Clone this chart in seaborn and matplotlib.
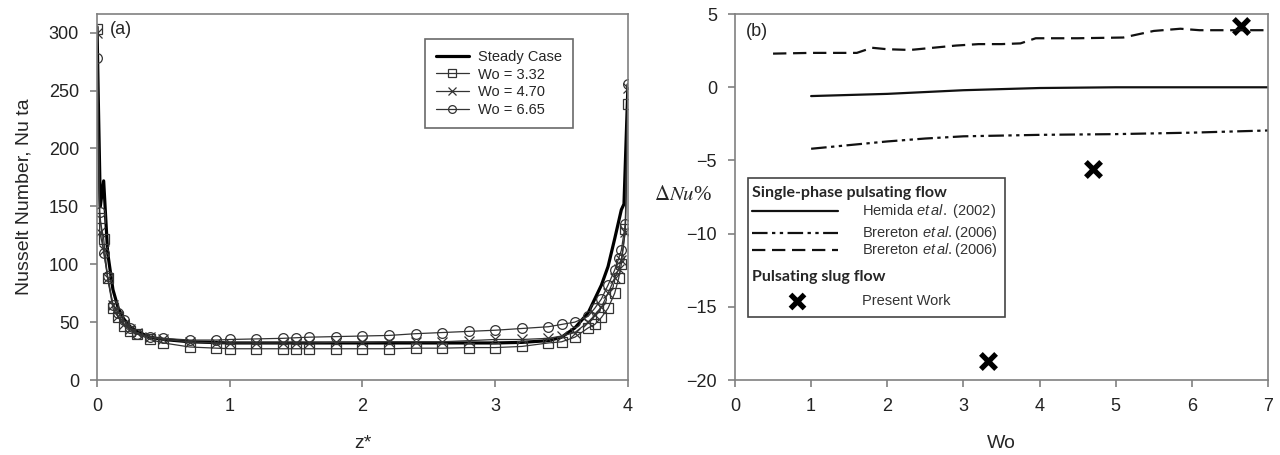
import numpy as np
import pandas as pd
import matplotlib
matplotlib.use('Agg')
import matplotlib.pyplot as plt
from matplotlib.patches import Rectangle
from matplotlib.lines import Line2D
import seaborn as sns

# ---- panel (a) data : Nusselt number along z*
z_wo = [0, 0.02, 0.05, 0.08, 0.12, 0.16, 0.2, 0.25, 0.3, 0.4, 0.5, 0.7, 0.9, 1.0, 1.2, 1.4, 1.5, 1.6, 1.8,
        2.0, 2.2, 2.4, 2.6, 2.8, 3.0, 3.2, 3.4, 3.5, 3.6, 3.7, 3.75, 3.8, 3.85, 3.9, 3.93, 3.95, 3.98, 4.0]
nu_332 = [303, 140, 122, 88, 62, 54, 47, 42, 40, 35, 32, 28.5, 27.5, 27, 27, 27, 27, 27, 27,
          27, 27, 27.5, 27.5, 28, 28, 29, 32, 33, 37, 45, 48, 54, 62, 75, 88, 100, 130, 238]
nu_470 = [300, 128, 112, 88, 65, 55, 48, 44, 41, 37, 35, 33, 32, 32, 32, 32, 32, 32, 32.5,
          32.5, 33, 33, 33, 34, 35, 35, 36, 38, 41, 50, 56, 63, 75, 88, 96, 104, 128, 252]
nu_665 = [278, 145, 110, 90, 65, 58, 52, 45, 40, 37, 36, 34.5, 34.5, 35, 35.5, 36, 36.5, 37, 37.5,
          38, 38.5, 40, 41, 42, 43, 44.5, 46, 48, 50, 55, 62, 70, 82, 95, 105, 112, 135, 256]
z_st = [0, 0.01, 0.025, 0.05, 0.08, 0.12, 0.16, 0.2, 0.25, 0.3, 0.4, 0.5, 0.7, 1.0, 1.5,
        2.0, 2.5, 3.0, 3.2, 3.4, 3.5, 3.6, 3.7, 3.8, 3.85, 3.9, 3.95, 3.97, 4.0]
nu_st = [305, 240, 150, 172, 110, 78, 62, 53, 46, 42, 37, 35, 33, 32, 32,
         32, 32, 32, 32.5, 34, 37, 45, 58, 82, 98, 122, 147, 152, 255]

# ---- panel (b) data : Delta Nu % vs Wo
wo_hem = [1, 2, 3, 4, 5, 6, 7]
dnu_hem = [-0.6, -0.45, -0.2, -0.05, 0, 0, 0]
wo_bre1 = [1, 1.5, 2, 2.5, 3, 3.5, 4, 5, 6, 7]
dnu_bre1 = [-4.2, -3.95, -3.7, -3.5, -3.35, -3.3, -3.25, -3.2, -3.1, -2.95]
wo_bre2 = [0.5, 1.0, 1.6, 1.8, 2.0, 2.3, 2.6, 2.9, 3.2, 3.5, 3.75, 3.95, 4.5, 5.1, 5.5, 5.85, 6.1, 7.0]
dnu_bre2 = [2.3, 2.35, 2.35, 2.7, 2.6, 2.55, 2.7, 2.85, 2.95, 2.95, 3.0, 3.35, 3.35, 3.4, 3.85, 4.0, 3.9, 3.9]
wo_pw = [3.32, 4.70, 6.65]
dnu_pw = [-18.7, -5.6, 4.2]

sns.set_style('ticks')
plt.rcParams['font.family'] = ['Liberation Sans', 'DejaVu Sans']
plt.rcParams['mathtext.fontset'] = 'custom'
plt.rcParams['mathtext.it'] = 'Liberation Sans:italic'
plt.rcParams['mathtext.rm'] = 'Liberation Sans'

GREY = '#808080'
fig = plt.figure(figsize=(12.8, 4.55), dpi=100)
ax1 = fig.add_axes([0.0758, 0.1648, 0.4148, 0.8042])
ax2 = fig.add_axes([0.5742, 0.1648, 0.4164, 0.8042])

for ax in (ax1, ax2):
    for s in ax.spines.values():
        s.set_color(GREY)
        s.set_linewidth(1.2)
    ax.tick_params(direction='out', length=5, width=1.2, color=GREY, labelsize=13,
                   labelcolor='#222222', pad=8)

# ---- (a)
sns.lineplot(x=z_st, y=nu_st, ax=ax1, color='black', lw=2.3, label='Steady Case')
mk = dict(markerfacecolor='none', markeredgecolor='#333333', markeredgewidth=0.9, markersize=7)
sns.lineplot(x=z_wo, y=nu_332, ax=ax1, color='#333333', lw=0.9, marker='s', label='Wo = 3.32', **mk)
sns.lineplot(x=z_wo, y=nu_470, ax=ax1, color='#333333', lw=0.9, marker='x', label='Wo = 4.70', **mk)
sns.lineplot(x=z_wo, y=nu_665, ax=ax1, color='#333333', lw=0.9, marker='o', label='Wo = 6.65', **mk)
ax1.set_xlim(0, 4)
ax1.set_ylim(0, 316)
ax1.set_xticks([0, 1, 2, 3, 4])
ax1.set_yticks(range(0, 301, 50))
ax1.set_xlabel('z*', fontsize=14, labelpad=14)
ax1.set_ylabel('Nusselt Number, Nu ta', fontsize=14, labelpad=12)
ax1.text(0.1, 303, '(a)', fontsize=13, va='center')
leg = ax1.legend(loc='upper right', bbox_to_anchor=(0.896, 0.932), fontsize=10.5, frameon=True,
                 fancybox=False, edgecolor='#444444', handlelength=2.3, handletextpad=0.6,
                 borderpad=0.75, labelspacing=0.25, borderaxespad=0, markerscale=0.8)
leg.get_frame().set_linewidth(1.2)

# ---- (b)
sns.lineplot(x=wo_hem, y=dnu_hem, ax=ax2, color='#111111', lw=1.6)
sns.lineplot(x=wo_bre1, y=dnu_bre1, ax=ax2, color='#111111', lw=1.6)
sns.lineplot(x=wo_bre2, y=dnu_bre2, ax=ax2, color='#111111', lw=1.6)
ddot = (0, (7, 2, 1.5, 2, 1.5, 2))
dash = (0, (6, 3))
ax2.lines[1].set_linestyle(ddot)
ax2.lines[2].set_linestyle(dash)
sns.scatterplot(x=wo_pw, y=dnu_pw, ax=ax2, marker='x', s=120, color='black', linewidth=3.8)
ax2.set_xlim(0, 7)
ax2.set_ylim(-20, 5)
ax2.set_xticks(range(0, 8))
ax2.set_yticks(range(-20, 6, 5))
ax2.set_xlabel('Wo', fontsize=14, labelpad=14)
ax2.set_ylabel(r'$\Delta Nu$%', fontsize=15, rotation=0, family='Liberation Serif',
               math_fontfamily='stix', ha='center', va='center')
ax2.yaxis.set_label_coords(-0.098, 0.505)
ax2.text(0.14, 3.8, '(b)', fontsize=13, va='center')

# hand-built legend box for panel (b)
T = ax2.transAxes
ax2.add_patch(Rectangle((0.024, 0.172), 0.483, 0.38, transform=T, fill=False,
                        edgecolor='#444444', lw=1.2, zorder=5))
hdr = dict(transform=T, fontsize=11.5, fontweight='bold', family='Lato', va='center', zorder=6)
ent = dict(transform=T, fontsize=10.5, va='center', color='#333333', zorder=6)
ax2.text(0.032, 0.511, 'Single-phase pulsating flow', **hdr)
rows = [(0.462, '-', 'Hemida $\\mathit{et\\,al.}$ (2002)'),
        (0.402, ddot, 'Brereton $\\mathit{et\\,al.}$(2006)'),
        (0.355, dash, 'Brereton $\\mathit{et\\,al.}$(2006)')]
for yy, ls, lab in rows:
    ax2.add_line(Line2D([0.032, 0.193], [yy, yy], transform=T, color='#111111', lw=1.6,
                        linestyle=ls, zorder=6))
    ax2.text(0.238, yy, lab, **ent)
ax2.text(0.032, 0.281, 'Pulsating slug flow', **hdr)
ax2.add_line(Line2D([0.116], [0.216], transform=T, marker='x', markersize=10, markeredgewidth=3.8,
                    color='black', linestyle='none', zorder=6))
ax2.text(0.238, 0.216, 'Present Work', **ent)
if ax2.get_legend():
    ax2.get_legend().remove()

fig.savefig('out.png', dpi=100)
